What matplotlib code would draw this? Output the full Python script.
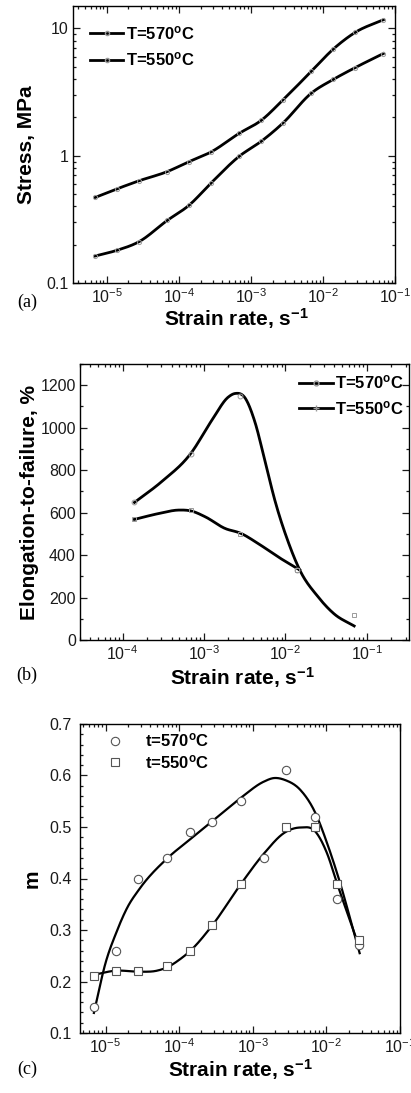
import matplotlib
matplotlib.use("Agg")
import matplotlib.pyplot as plt
import matplotlib.ticker as ticker
from matplotlib.lines import Line2D
import numpy as np

plt.rcParams['font.family'] = ['Liberation Sans', 'DejaVu Sans']
plt.rcParams['mathtext.fontset'] = 'custom'
plt.rcParams['mathtext.rm'] = 'Liberation Sans'
plt.rcParams['mathtext.bf'] = 'Liberation Sans:bold'
plt.rcParams['mathtext.default'] = 'regular'

# ---- (a) stress vs strain rate
rate_a = [6.9e-6, 1.4e-5, 2.8e-5, 6.9e-5, 1.4e-4, 2.8e-4, 6.9e-4, 1.4e-3, 2.8e-3, 6.9e-3, 1.4e-2, 2.8e-2, 6.9e-2]
stress_570 = [0.47, 0.55, 0.635, 0.75, 0.90, 1.07, 1.5, 1.9, 2.75, 4.6, 6.9, 9.3, 11.7]
stress_550 = [0.163, 0.181, 0.211, 0.31, 0.41, 0.61, 0.99, 1.30, 1.81, 3.1, 3.98, 4.92, 6.35]

# ---- (b) elongation to failure
rate_b570 = [1.4e-4, 6.9e-4, 2.8e-3, 1.4e-2, 6.9e-2]
elong_570 = [650, 875, 1150, 330, 120]
rate_b550 = [1.4e-4, 6.9e-4, 2.8e-3, 1.4e-2]
elong_550 = [570, 610, 500, 330]
# fitted curves as drawn in the figure
fit_rate_b570 = [1.4e-4, 3e-4, 6.9e-4, 1.25e-3, 2e-3, 2.4e-3, 3.2e-3, 4.2e-3, 5.6e-3, 7.4e-3, 1.1e-2, 1.5e-2, 2.5e-2, 4e-2, 7e-2]
fit_elong_570 = [648, 745, 879, 1035, 1145, 1161, 1140, 1030, 845, 660, 455, 330, 205, 122, 66]
fit_rate_b550 = [1.4e-4, 2.8e-4, 4.9e-4, 6.9e-4, 1.04e-3, 1.8e-3, 2.85e-3, 4.6e-3, 8.1e-3, 1.5e-2]
fit_elong_550 = [568, 596, 612, 608, 580, 526, 502, 455, 392, 330]

# ---- (c) strain rate sensitivity m
rate_c570 = [6.9e-6, 1.4e-5, 2.8e-5, 6.9e-5, 1.4e-4, 2.8e-4, 6.9e-4, 1.4e-3, 2.8e-3, 6.9e-3, 1.4e-2, 2.8e-2]
m_570 = [0.15, 0.26, 0.40, 0.44, 0.49, 0.51, 0.55, 0.44, 0.61, 0.52, 0.36, 0.27]
rate_c550 = [6.9e-6, 1.4e-5, 2.8e-5, 6.9e-5, 1.4e-4, 2.8e-4, 6.9e-4, 2.8e-3, 6.9e-3, 1.4e-2, 2.8e-2]
m_550 = [0.21, 0.22, 0.22, 0.23, 0.26, 0.31, 0.39, 0.50, 0.50, 0.39, 0.28]
fit_rate_c570 = [6.95e-6, 1e-5, 1.4e-5, 2e-5, 2.83e-5, 7e-5, 1.38e-4, 2.75e-4, 6.8e-4, 1.41e-3, 1.93e-3, 2.77e-3, 4.43e-3, 7.1e-3, 1.02e-2, 1.4e-2, 2.83e-2]
fit_m_570 = [0.139, 0.236, 0.295, 0.345, 0.378, 0.44, 0.475, 0.51, 0.556, 0.588, 0.595, 0.591, 0.572, 0.527, 0.469, 0.41, 0.255]
fit_rate_c550 = [6.95e-6, 1.37e-5, 2.83e-5, 5e-5, 7e-5, 1e-4, 1.38e-4, 2.75e-4, 6.8e-4, 1.41e-3, 2.77e-3, 4.43e-3, 7.1e-3, 1.02e-2, 1.4e-2, 2.83e-2]
fit_m_550 = [0.213, 0.221, 0.219, 0.221, 0.228, 0.242, 0.258, 0.307, 0.388, 0.448, 0.49, 0.499, 0.491, 0.449, 0.39, 0.265]


def smooth(x, y, logy=False, n=25):
    # cubic hermite through the read points, in log-x space
    lx = np.log10(x)
    yy = np.log10(y) if logy else np.asarray(y, float)
    m = np.gradient(yy, lx)
    xs, ys = [], []
    for i in range(len(lx) - 1):
        h = lx[i + 1] - lx[i]
        t = np.linspace(0, 1, n, endpoint=False)
        h00 = 2 * t**3 - 3 * t**2 + 1
        h10 = t**3 - 2 * t**2 + t
        h01 = -2 * t**3 + 3 * t**2
        h11 = t**3 - t**2
        xs.append(lx[i] + t * h)
        ys.append(h00 * yy[i] + h10 * h * m[i] + h01 * yy[i + 1] + h11 * h * m[i + 1])
    xs.append([lx[-1]])
    ys.append([yy[-1]])
    xs = 10 ** np.concatenate(xs)
    ys = np.concatenate(ys)
    return xs, (10 ** ys if logy else ys)


def style(ax, right=True):
    ax.set_xscale('log')
    ax.tick_params(which='both', direction='in', top=True, right=right,
                   labelsize=11.5, pad=3, width=0.9, colors='#1a1a1a')
    ax.tick_params(which='major', length=5)
    ax.tick_params(which='minor', length=2.5)
    ax.xaxis.set_major_locator(ticker.LogLocator(base=10, numticks=10))
    ax.xaxis.set_minor_locator(ticker.LogLocator(base=10, subs=np.arange(2, 10), numticks=20))
    for s in ax.spines.values():
        s.set_linewidth(1.0)


fig = plt.figure(figsize=(4.11, 10.93), dpi=100)
lab = dict(fontsize=15, fontweight='bold')
leg_font = dict(size=12, weight='bold')
grey = '#9a9a9a'

# (a)
ax1 = fig.add_axes([73 / 411, 1 - 283 / 1093, 322 / 411, 277 / 1093])
style(ax1)
ax1.set_yscale('log')
ax1.set_xlim(3.4e-6, 0.1)
ax1.set_ylim(0.1, 15)
for r, s in [(rate_a, stress_570), (rate_a, stress_550)]:
    fx, fy = smooth(r, s, logy=True)
    ax1.plot(fx, fy, color='k', lw=2.0)
    ax1.plot(r, s, ls='none', marker='o', ms=3, mfc='none', mec=grey, mew=0.7)
ax1.yaxis.set_major_locator(ticker.FixedLocator([0.1, 1, 10]))
ax1.yaxis.set_major_formatter(ticker.FuncFormatter(lambda v, p: f'{v:g}'))
ax1.yaxis.set_minor_locator(ticker.LogLocator(base=10, subs=np.arange(2, 10), numticks=20))
ax1.yaxis.set_minor_formatter(ticker.NullFormatter())
h = [Line2D([], [], color='k', lw=2, marker='o', ms=3, mfc='none', mec=grey),
     Line2D([], [], color='k', lw=2, marker='o', ms=3, mfc='none', mec=grey)]
ax1.legend(h, [r'T=570$^{\mathbf{o}}$C', r'T=550$^{\mathbf{o}}$C'], loc='upper left',
           bbox_to_anchor=(0.053, 0.935), frameon=False, prop=leg_font, numpoints=1,
           handlelength=2.0, handletextpad=0.15, labelspacing=0.5,
           borderaxespad=0, borderpad=0)
ax1.set_xlabel(r'Strain rate, s$^{\mathbf{-1}}$', **lab)
ax1.xaxis.set_label_coords(0.509, -0.13)
ax1.xaxis.label.set_va('center')
ax1.set_ylabel('Stress, MPa', **lab)
ax1.yaxis.set_label_coords(-0.143, 0.5)
ax1.yaxis.label.set_va('center')

# (b)
ax2 = fig.add_axes([80 / 411, 1 - 640 / 1093, 329 / 411, 276 / 1093])
style(ax2)
ax2.set_xlim(3e-5, 0.33)
ax2.set_ylim(0, 1300)
ax2.yaxis.set_major_locator(ticker.MultipleLocator(200))
ax2.yaxis.set_minor_locator(ticker.MultipleLocator(100))
fx, fy = smooth(fit_rate_b570, fit_elong_570)
ax2.plot(fx, fy, color='k', lw=2.0)
fx, fy = smooth(fit_rate_b550, fit_elong_550)
ax2.plot(fx, fy, color='k', lw=2.0)
ax2.plot(rate_b570[:4], elong_570[:4], ls='none', marker='o', ms=3.5, mfc='none', mec=grey, mew=0.7)
ax2.plot(rate_b570[4:], elong_570[4:], ls='none', marker='s', ms=3.5, mfc='none', mec=grey, mew=0.7)
ax2.plot(rate_b550, elong_550, ls='none', marker='s', ms=3.5, mfc='none', mec=grey, mew=0.7)
h = [Line2D([], [], color='k', lw=2, marker='o', ms=3.5, mfc='none', mec=grey),
     Line2D([], [], color='k', lw=2, marker='+', ms=4, mec=grey)]
ax2.legend(h, [r'T=570$^{\mathbf{o}}$C', r'T=550$^{\mathbf{o}}$C'], loc='upper right',
           bbox_to_anchor=(0.985, 0.965), frameon=False, prop=leg_font, numpoints=1,
           handlelength=2.0, handletextpad=0.15, labelspacing=0.45,
           borderaxespad=0, borderpad=0)
ax2.set_xlabel(r'Strain rate, s$^{\mathbf{-1}}$', **lab)
ax2.xaxis.set_label_coords(0.495, -0.135)
ax2.xaxis.label.set_va('center')
ax2.set_ylabel('Elongation-to-failure, %', **lab)
ax2.yaxis.set_label_coords(-0.155, 0.5)
ax2.yaxis.label.set_va('center')

# (c)
ax3 = fig.add_axes([80 / 411, 1 - 1033 / 1093, 320 / 411, 309 / 1093])
style(ax3, right=False)
ax3.set_xlim(4.5e-6, 0.1)
ax3.set_ylim(0.1, 0.7)
ax3.yaxis.set_major_locator(ticker.MultipleLocator(0.1))
ax3.yaxis.set_minor_locator(ticker.MultipleLocator(0.02))
ax3.yaxis.set_major_formatter(ticker.FuncFormatter(lambda v, p: f'{v:.1f}'))
ax3.tick_params(axis='y', pad=6)
fx, fy = smooth(fit_rate_c570, fit_m_570)
ax3.plot(fx, fy, color='k', lw=1.6)
fx, fy = smooth(fit_rate_c550, fit_m_550)
ax3.plot(fx, fy, color='k', lw=1.6)
ax3.plot(rate_c570, m_570, ls='none', marker='o', ms=6, mfc='white', mec='#555555', mew=0.8,
         label=r't=570$^{\mathbf{o}}$C')
ax3.plot(rate_c550, m_550, ls='none', marker='s', ms=5.5, mfc='white', mec='#555555', mew=0.8,
         label=r't=550$^{\mathbf{o}}$C')
ax3.legend(loc='upper left', bbox_to_anchor=(0.084, 0.975), frameon=False, prop=leg_font,
           numpoints=1, handlelength=1.0, handletextpad=1.3, labelspacing=0.2,
           borderaxespad=0, borderpad=0)
ax3.set_xlabel(r'Strain rate, s$^{\mathbf{-1}}$', **lab)
ax3.xaxis.set_label_coords(0.5, -0.118)
ax3.xaxis.label.set_va('center')
ax3.set_ylabel('m', **lab)
ax3.yaxis.set_label_coords(-0.15, 0.5)
ax3.yaxis.label.set_va('center')

# panel letters
for y, t in [(302, '(a)'), (675, '(b)'), (1069, '(c)')]:
    fig.text(27 / 411, 1 - y / 1093, t, family='Liberation Serif', fontsize=13,
             ha='center', va='center')

fig.savefig('out.png', dpi=100)
